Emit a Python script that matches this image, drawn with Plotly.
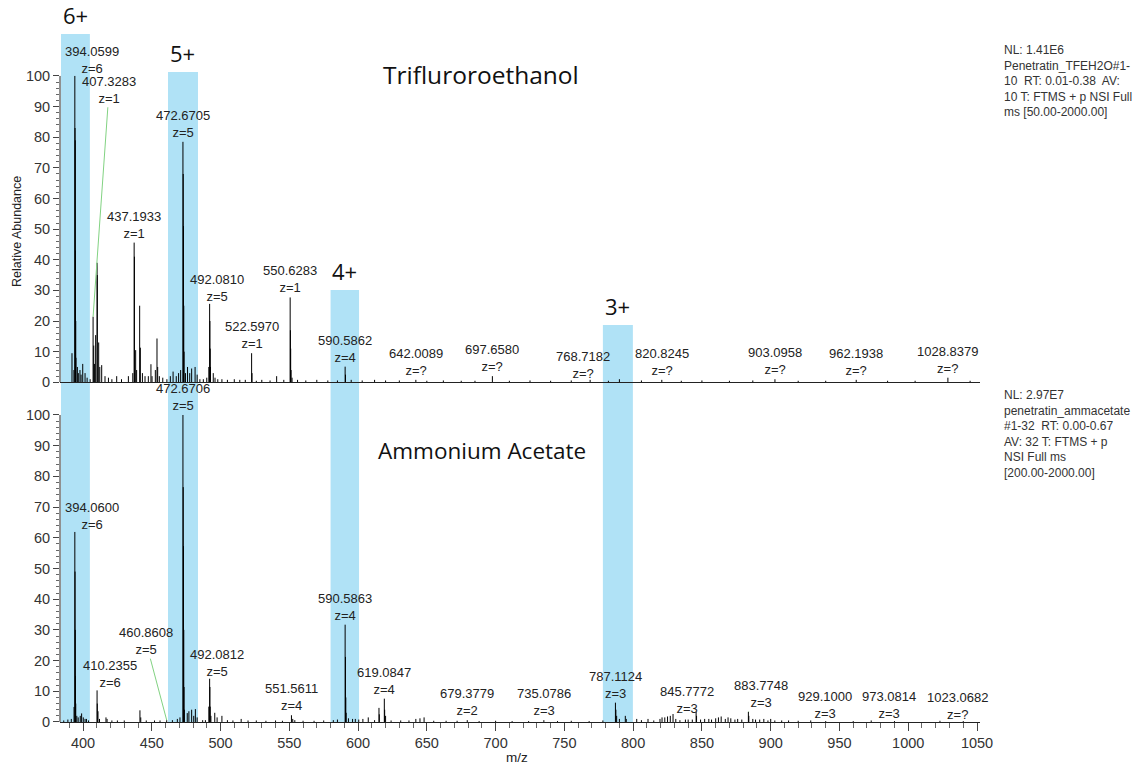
import plotly.graph_objects as go

# ---------------- Trifluoroethanol spectrum (m/z, relative abundance %) ----------------
tfe_mz = [
    392.0, 393.4, 394.0599, 394.23, 394.39, 394.56, 394.73, 394.9, 395.9, 396.6, 397.8,
    398.6, 399.8, 401.5, 403.0, 405.2, 407.3283, 407.8, 408.3, 409.2, 410.24, 410.4,
    411.4, 412.2, 413.6, 416.0, 418.5, 421.0, 424.5, 428.0, 433.0, 436.2, 437.1933,
    437.4, 438.3, 439.0, 441.2, 441.7, 443.2, 445.1, 447.5, 449.4, 450.2, 452.6, 453.8,
    454.3, 455.5, 458.0, 461.0, 463.5, 465.5, 467.8, 469.5, 471.0, 472.6705, 472.87,
    473.07, 473.27, 473.5, 474.5, 476.0, 477.6, 479.0, 481.5, 483.0, 485.0, 487.5,
    490.0, 491.5, 492.0810, 492.28, 492.48, 492.7, 494.7, 496.0, 498.0, 501.0, 505.0,
    510.0, 514.0, 518.0, 522.5970, 522.9, 526.0, 530.0, 536.0, 540.8, 546.0, 550.6283,
    550.8, 551.0, 551.3, 552.0, 556.0, 562.0, 570.0, 578.0, 585.0, 590.5862, 590.85,
    595.0, 603.0, 612.0, 620.0, 630.0, 642.0089, 650.0, 662.0, 675.0, 685.0, 697.6580,
    710.0, 725.0, 740.0, 755.0, 768.7182, 782.0, 790.0, 806.0, 820.8245, 835.0, 850.0,
    870.0, 887.0, 903.0958, 920.0, 940.0, 962.1938, 985.0, 1005.0, 1028.8379, 1045.0,
]
tfe_int = [
    9.5, 4, 100, 83, 79, 43, 20, 8, 5, 3, 4,
    2.5, 6, 3, 1.5, 1, 21.4, 12, 6, 15.4, 39, 35,
    13, 5, 5.6, 2, 1.5, 1, 2, 1, 2, 3, 45.6,
    41, 10.5, 4, 25, 11.3, 3, 2, 2, 5.9, 2, 4, 14.3,
    5, 2, 1.5, 1, 2, 3.5, 2, 3, 4, 78.5, 68,
    51, 25, 10, 3, 5, 3, 4.5, 5, 2.5, 1, 1,
    1.5, 5, 25.6, 20, 11, 5, 3, 1.5, 1, 1, 0.8,
    1, 0.8, 0.8, 9.5, 3, 0.5, 0.8, 0.6, 2, 0.8, 27.7,
    17, 11, 4, 1.5, 0.8, 0.6, 0.8, 0.6, 0.6, 5.1, 2.5,
    0.8, 0.6, 0.8, 0.6, 0.6, 0.8, 0.5, 0.6, 0.5, 0.5, 2,
    0.5, 0.6, 0.5, 0.6, 0.8, 0.5, 1, 0.6, 0.8, 0.5, 0.6,
    0.5, 0.6, 1, 0.5, 0.5, 0.8, 0.5, 0.5, 1.5, 0.5,
]

# ---------------- Ammonium acetate spectrum ----------------
aa_mz = [
    386.0, 389.0, 391.5, 393.5, 394.0600, 394.23, 394.39, 394.56, 394.73, 395.5, 396.5,
    398.0, 399.0, 400.2, 401.5, 402.5, 404.0, 410.2355, 410.4, 410.9, 412.0, 416.7,
    417.5, 421.0, 425.0, 430.0, 441.4, 442.0, 446.0, 452.0, 456.0, 460.8608, 465.0,
    468.6, 470.5, 472.6706, 472.87, 473.07, 473.27, 473.47, 473.7, 475.8, 477.0, 479.0,
    480.5, 481.7, 483.0, 487.0, 489.0, 491.5, 492.0812, 492.28, 492.48, 493.0, 495.8,
    497.5, 501.0, 505.0, 509.0, 515.0, 520.0, 526.0, 533.0, 540.0, 545.0, 551.5611,
    552.5, 554.0, 560.0, 568.0, 575.0, 582.0, 585.0, 590.5863, 590.84, 591.09, 591.34,
    593.0, 596.0, 598.0, 600.5, 603.5, 607.4, 612.0, 615.2, 615.45, 619.0847, 619.33,
    620.0, 624.0, 631.0, 637.0, 642.0, 645.0, 648.0, 655.0, 664.0, 672.0, 679.3779,
    688.0, 700.0, 712.0, 724.0, 735.0786, 745.0, 755.0, 768.0, 778.0, 787.1124, 787.45,
    788.0, 790.0, 794.3, 795.0, 802.6, 806.0, 810.8, 815.0, 819.5, 821.0, 823.0,
    825.0, 827.0, 829.0, 831.0, 834.0, 838.0, 840.0, 843.0, 845.7772, 846.1, 849.0,
    852.0, 855.0, 857.0, 860.0, 862.0, 864.0, 867.0, 869.0, 871.0, 874.0, 876.0,
    879.0, 883.7748, 884.1, 887.0, 889.0, 892.0, 895.0, 898.0, 900.0, 903.0, 908.0,
    913.0, 920.0, 929.1000, 940.0, 960.0, 973.0814, 990.0, 1023.0682, 1040.0,
]
aa_int = [
    0.5, 0.8, 1, 4.9, 61.9, 49, 30, 15, 6, 2, 1.5,
    2, 2.8, 1.5, 1, 1, 0.5, 10.3, 6, 3.5, 1, 1.5,
    1, 0.5, 0.5, 0.5, 3.8, 1.5, 0.5, 0.5, 0.5, 0.6, 0.6,
    1, 1.5, 100, 76.5, 57.3, 30, 11.4, 4, 2.9, 3.5, 4,
    2, 4.2, 1.5, 0.6, 0.6, 5, 14.1, 11.4, 5, 2, 3,
    1.5, 2, 0.6, 0.5, 1, 0.5, 0.5, 0.4, 0.5, 0.4, 2.2,
    1, 0.6, 0.4, 0.4, 0.5, 0.6, 0.8, 31.7, 21.2, 8, 3,
    1.2, 1, 1, 0.8, 1, 1.5, 0.6, 4.6, 2.5, 7.6, 4,
    2, 0.5, 0.5, 0.5, 1, 1.2, 1.5, 0.4, 0.4, 0.4, 0.6,
    0.3, 0.4, 0.3, 0.3, 0.6, 0.3, 0.4, 0.3, 0.5, 6.3, 4,
    2, 1, 2, 1, 1, 0.6, 1, 0.5, 1, 1.5, 1.5,
    1.8, 2, 2.6, 1, 0.6, 0.8, 0.8, 0.8, 3.3, 2, 0.8,
    1, 1, 0.8, 1.2, 1.5, 1.8, 1, 1.5, 1.2, 0.8, 1,
    0.8, 3.3, 2, 1, 0.8, 0.8, 1, 0.5, 1, 0.5, 0.5,
    0.5, 0.4, 0.5, 0.3, 0.3, 0.5, 0.3, 0.4, 0.3,
]

# ---------------- Annotated peaks ----------------
tfe_label_mz = [394.0599, 407.3283, 437.1933, 472.6705, 492.0810, 522.5970, 550.6283,
                590.5862, 642.0089, 697.6580, 768.7182, 820.8245, 903.0958, 962.1938,
                1028.8379]
tfe_label_z = ["6", "1", "1", "5", "5", "1", "1", "4", "?", "?", "?", "?", "?", "?", "?"]

aa_label_mz = [394.0600, 410.2355, 460.8608, 472.6706, 492.0812, 551.5611, 590.5863,
               619.0847, 679.3779, 735.0786, 787.1124, 845.7772, 883.7748, 929.1000,
               973.0814, 1023.0682]
aa_label_z = ["6", "6", "5", "5", "5", "4", "4", "4", "2", "3", "3", "3", "3", "3", "3", "?"]

# ---------------- Charge-state windows ----------------
charge_states = ["6+", "5+", "4+", "3+"]
window_lo = [384.0, 461.8, 580.0, 778.0]
window_hi = [405.0, 483.6, 600.7, 799.8]
window_top = [113.7, 101.3, 30.1, 18.7]

x_tick_vals = [400, 450, 500, 550, 600, 650, 700, 750, 800, 850, 900, 950, 1000, 1050]
y_tick_vals = [0, 10, 20, 30, 40, 50, 60, 70, 80, 90, 100]

tfe_header = ["NL: 1.41E6", "Penetratin_TFEH2O#1-", "10  RT: 0.01-0.38  AV:",
              "10 T: FTMS + p NSI Full", "ms [50.00-2000.00]"]
aa_header = ["NL: 2.97E7", "penetratin_ammacetate", "#1-32  RT: 0.00-0.67",
             "AV: 32 T: FTMS + p", "NSI Full ms", "[200.00-2000.00]"]

# ---------------- Layout geometry ----------------
W, H = 1144, 766
ML, MR, MT, MB = 60, 164, 30, 44
SPLIT = 0.4909          # paper y where the two panels meet
TOP_RANGE = 115.0
BOT_RANGE = 110.65
X_RANGE = [383.28, 1052.18]

BOX_COLOR = "rgb(176,226,246)"
LEADER = "rgb(130,210,130)"
SANS = "Liberation Sans, Arial, sans-serif"
LABEL_FONT = dict(family=SANS, size=13, color="#222")
TICK_FONT = dict(family=SANS, size=14.5, color="#333")
BIG_FONT = dict(family="Open Sans", size=22, color="#111")

# leader-line offsets (px) for labels displaced from their peak
tfe_offsets = {394.0599: (17, -16), 407.3283: (16, -227), 492.0810: (7, -16),
               768.7182: (-7, -15)}
aa_offsets = {394.0600: (17, -16), 410.2355: (13, -16), 460.8608: (-21, -79),
              492.0812: (7, -16), 845.7772: (-9, -12), 883.7748: (13, -18),
              929.1000: (14, -15), 973.0814: (18, -15), 1023.0682: (18, -15)}


def sticks(mz, inten):
    xs, ys = [], []
    for m, v in zip(mz, inten):
        xs += [m, m, None]
        ys += [0, v, None]
    return xs, ys


fig = go.Figure()

tx, ty = sticks(tfe_mz, tfe_int)
fig.add_trace(go.Scatter(x=tx, y=ty, mode="lines", xaxis="x2", yaxis="y",
                         line=dict(color="#000", width=1), hoverinfo="skip",
                         showlegend=False))
bx, by = sticks(aa_mz, aa_int)
fig.add_trace(go.Scatter(x=bx, y=by, mode="lines", xaxis="x", yaxis="y2",
                         line=dict(color="#000", width=1), hoverinfo="skip",
                         showlegend=False))

shapes = []
annotations = []

# highlighted charge-state windows spanning both spectra
for cs, lo, hi, top in zip(charge_states, window_lo, window_hi, window_top):
    shapes.append(dict(type="rect", xref="x2", yref="y", x0=lo, x1=hi, y0=0, y1=top,
                       fillcolor=BOX_COLOR, line=dict(width=0), layer="below"))
    shapes.append(dict(type="rect", xref="x", yref="y2", x0=lo, x1=hi, y0=0, y1=BOT_RANGE,
                       fillcolor=BOX_COLOR, line=dict(width=0), layer="below"))
    annotations.append(dict(xref="x2", yref="y", x=(lo + hi) / 2, y=top, text=cs,
                            showarrow=False, xanchor="center", yanchor="bottom",
                            yshift=2, font=BIG_FONT))

# y-axis spines (0-100 only)
for yr in ("y", "y2"):
    shapes.append(dict(type="line", xref="paper", yref=yr, x0=0, x1=0, y0=0, y1=100,
                       line=dict(color="#222", width=1)))


def peak_labels(label_mz, label_z, mz, inten, xr, yr, offsets):
    lookup = dict(zip(mz, inten))
    for m, z in zip(label_mz, label_z):
        h = lookup[m]
        text = f"{m:.4f}<br>z={z}"
        if m in offsets:
            ax, ay = offsets[m]
            annotations.append(dict(xref=xr, yref=yr, x=m, y=h, text=text,
                                    showarrow=True, arrowhead=0, arrowwidth=1,
                                    arrowcolor=LEADER, standoff=0, ax=ax, ay=ay,
                                    font=LABEL_FONT))
        else:
            annotations.append(dict(xref=xr, yref=yr, x=m, y=h, text=text,
                                    showarrow=False, xanchor="center", yanchor="bottom",
                                    yshift=0, font=LABEL_FONT))


peak_labels(tfe_label_mz, tfe_label_z, tfe_mz, tfe_int, "x2", "y", tfe_offsets)
peak_labels(aa_label_mz, aa_label_z, aa_mz, aa_int, "x", "y2", aa_offsets)


def paper_y(px):
    return (H - MB - px) / (H - MB - MT)


def paper_x(px):
    return (px - ML) / (W - ML - MR)


def text_at(px, py, text, font, **kw):
    d = dict(xref="paper", yref="paper", x=paper_x(px), y=paper_y(py), text=text,
             showarrow=False, xanchor="center", yanchor="middle", font=font)
    d.update(kw)
    annotations.append(d)


# panel titles
text_at(481, 75, "Trifluroroethanol", dict(family="Open Sans", size=24.5, color="#111"))
text_at(482, 450, "Ammonium Acetate", dict(family="Open Sans", size=22.5, color="#111"))

# acquisition headers
HEAD_FONT = dict(family=SANS, size=12, color="#333")
text_at(1002, 41, "<br>".join(tfe_header), HEAD_FONT, align="left",
        xanchor="left", yanchor="top")
text_at(1002, 386, "<br>".join(aa_header), HEAD_FONT, align="left",
        xanchor="left", yanchor="top")

# axis titles
AXIS_TITLE_FONT = dict(family=SANS, size=12.5, color="#222")
text_at(17, 232, "Relative Abundance", AXIS_TITLE_FONT, textangle=-90)
text_at(517, 757, "m/z", dict(family=SANS, size=13.5, color="#222"))

y_common = dict(tickmode="array", tickvals=y_tick_vals, ticks="outside", ticklen=6,
                tickwidth=1, tickcolor="#444", tickfont=TICK_FONT, showline=False,
                showgrid=False, zeroline=False,
                minor=dict(tickmode="array", tickvals=list(range(0, 101, 2)),
                           ticks="outside", ticklen=3, tickwidth=1, tickcolor="#666"))

fig.update_layout(
    width=W, height=H,
    margin=dict(l=ML, r=MR, t=MT, b=MB),
    paper_bgcolor="white", plot_bgcolor="white",
    showlegend=False,
    xaxis=dict(domain=[0, 1], range=X_RANGE, anchor="y2", showline=True,
               linecolor="#222", linewidth=1, ticks="outside", ticklen=8, tickwidth=1,
               tickcolor="#444", tickmode="array", tickvals=x_tick_vals,
               tickfont=TICK_FONT, showgrid=False, zeroline=False,
               minor=dict(tickmode="linear", tick0=0, dtick=10, ticks="outside",
                          ticklen=5, tickwidth=1, tickcolor="#666")),
    xaxis2=dict(domain=[0, 1], matches="x", anchor="y", showline=True,
                linecolor="#222", linewidth=1, ticks="", showticklabels=False,
                showgrid=False, zeroline=False),
    yaxis=dict(domain=[SPLIT, 1], range=[0, TOP_RANGE], anchor="x2", **y_common),
    yaxis2=dict(domain=[0, SPLIT], range=[0, BOT_RANGE], anchor="x", **y_common),
    shapes=shapes,
    annotations=annotations,
)

fig.write_html("out.html")
